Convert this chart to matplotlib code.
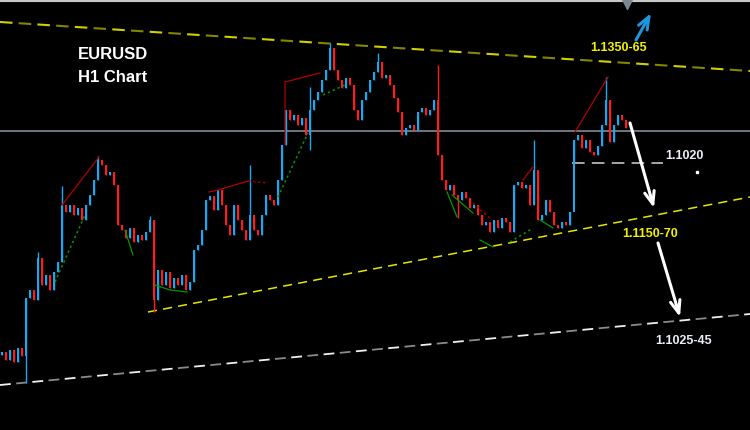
import matplotlib
matplotlib.use('Agg')
import matplotlib.pyplot as plt
import numpy as np

# hourly closes, one per bar (EURUSD H1)
closes = [
    1.1048, 1.1040, 1.1050, 1.1038, 1.1052, 1.1044, 1.1102, 1.1110, 1.1100, 1.1142,
    1.1115, 1.1125, 1.1110, 1.1128, 1.1138, 1.1195, 1.1188, 1.1195, 1.1185, 1.1192,
    1.1180, 1.1195, 1.1205, 1.1220, 1.1240, 1.1235, 1.1225, 1.1228, 1.1215, 1.1175,
    1.1170, 1.1162, 1.1172, 1.1158, 1.1165, 1.1160, 1.1168, 1.1180, 1.1100, 1.1130,
    1.1115, 1.1128, 1.1112, 1.1122, 1.1115, 1.1125, 1.1110, 1.1118, 1.1150, 1.1155,
    1.1170, 1.1200, 1.1204, 1.1190, 1.1210, 1.1195, 1.1175, 1.1165, 1.1195, 1.1180,
    1.1170, 1.1160, 1.1185, 1.1170, 1.1165, 1.1185, 1.1205, 1.1200, 1.1195, 1.1220,
    1.1255, 1.1290, 1.1280, 1.1285, 1.1275, 1.1282, 1.1265, 1.1290, 1.1300, 1.1308,
    1.1320, 1.1330, 1.1352, 1.1330, 1.1320, 1.1312, 1.1322, 1.1315, 1.1290, 1.1280,
    1.1300, 1.1308, 1.1320, 1.1328, 1.1338, 1.1322, 1.1325, 1.1315, 1.1302, 1.1288,
    1.1265, 1.1272, 1.1275, 1.1270, 1.1288, 1.1292, 1.1285, 1.1290, 1.1300, 1.1245,
    1.1220, 1.1210, 1.1215, 1.1205, 1.1200, 1.1208, 1.1202, 1.1192, 1.1195, 1.1185,
    1.1175, 1.1178, 1.1168, 1.1180, 1.1172, 1.1182, 1.1178, 1.1168, 1.1215, 1.1218,
    1.1212, 1.1215, 1.1195, 1.1230, 1.1180, 1.1185, 1.1200, 1.1188, 1.1175, 1.1172,
    1.1178, 1.1175, 1.1188, 1.1260, 1.1265, 1.1252, 1.1260, 1.1248, 1.1245, 1.1254,
    1.1275, 1.1300, 1.1258, 1.1275, 1.1285, 1.1280, 1.1272,
]
first_open = 1.1045

# long wicks on some bars: bar index -> (high, low)
spikes = {
    6: (None, 1.1017), 9: (1.1148, None), 15: (1.1214, None), 24: (1.1244, None),
    37: (1.1184, None), 38: (None, 1.1088), 62: (1.1235, None), 77: (1.1313, 1.1250),
    82: (1.1357, None), 94: (1.1347, None), 109: (1.1335, None), 114: (None, 1.1182),
    133: (1.1260, None), 143: (None, 1.1237), 151: (1.1323, None),
}

# drawn objects, (bar, price)
upper_channel = [(-0.5, 1.1378), (187, 1.1329)]
lower_channel = [(36.5, 1.1088), (187, 1.1203)]
support_line = [(-0.5, 1.1015), (187, 1.1086)]
level_line = 1.12685
level_1020 = [(142.5, 1.1237), (165.25, 1.1237)]

red_lines = [
    [(15, 1.1195), (24.25, 1.1243)],
    [(51.75, 1.1208), (54, 1.1210), (61.5, 1.1219)],
    [(70.75, 1.1255), (70.75, 1.1318), (79.5, 1.1327)],
    [(130.25, 1.1220), (132.75, 1.1233)],
    [(143.25, 1.1268), (151.5, 1.1323)],
]
red_dotted = [
    [(61.5, 1.1219), (66.5, 1.1217)],
    [(117.75, 1.1197), (122.5, 1.1180)],
]
green_lines = [
    [(30.75, 1.1170), (32.75, 1.1145)],
    [(38.25, 1.1115), (42, 1.1110), (46.25, 1.1108)],
    [(111.25, 1.1208), (113.75, 1.1183)],
    [(112.5, 1.1205), (117.75, 1.1187)],
    [(119.5, 1.1160), (122.75, 1.1153)],
    [(134.5, 1.1180), (137.75, 1.1172)],
]
green_dotted = [
    [(13.25, 1.1118), (20.75, 1.1185)],
    [(69, 1.1203), (76.5, 1.1267)],
    [(80.25, 1.1305), (85.75, 1.1315)],
    [(127, 1.1158), (132.75, 1.1172)],
]

BLUE = '#19a9f2'
RED = '#ff1c1c'

fig = plt.figure(figsize=(7.5, 4.3), dpi=100, facecolor='black')
ax = fig.add_axes([0, 0, 1, 1])
ax.set_facecolor('black')
ax.set_xlim(-0.5, 187)
ax.set_ylim(1.0970, 1.1400)
ax.axis('off')

x = np.arange(len(closes))
opens = np.array([first_open] + closes[:-1])
closes_arr = np.array(closes)
highs = np.maximum(opens, closes_arr)
lows = np.minimum(opens, closes_arr)
for i, (hi, lo) in spikes.items():
    if hi is not None:
        highs[i] = hi
    if lo is not None:
        lows[i] = lo

colors = [BLUE if c >= o else RED for o, c in zip(opens, closes_arr)]
ax.vlines(x, lows, highs, colors=colors, lw=1.0, zorder=3)
ax.bar(x, closes_arr - opens, bottom=opens, width=0.7, color=colors, zorder=3)

# horizontal reference lines
ax.axhline(level_line, color='#8c96a8', lw=1.1, zorder=2)
ax.axhline(1.1400, color='#c8c8c8', lw=3, zorder=5)
ax.plot(156.25, 1.1396, marker='v', color='#7c8690', ms=7, zorder=6)

(x0, y0), (x1, y1) = upper_channel
ax.plot([x0, x1], [y0, y1], color='#d0d000', lw=1.5, dashes=(6, 12), zorder=2)
ax.plot([x0, x1], [y0, y1], color='#858500', lw=1.5, linestyle=(9, (6, 12)), zorder=2)

(x0, y0), (x1, y1) = lower_channel
ax.plot([x0, x1], [y0, y1], color='#e6e600', lw=1.1, dashes=(6, 4), zorder=2)

(x0, y0), (x1, y1) = support_line
ax.plot([x0, x1], [y0, y1], color='#f0f0f0', lw=1.3, dashes=(6, 12), zorder=2)
ax.plot([x0, x1], [y0, y1], color='#8a8a8a', lw=1.3, linestyle=(9, (6, 12)), zorder=2)

ax.plot(*zip(*level_1020), color='#b4b4b4', lw=1.3, dashes=(7, 4), zorder=2)

for pts in red_lines:
    ax.plot(*zip(*pts), color='#b40000', lw=0.9, zorder=4)
for pts in red_dotted:
    ax.plot(*zip(*pts), color='#b40000', lw=0.9, dashes=(2, 2), zorder=4)
for pts in green_lines:
    ax.plot(*zip(*pts), color='#009a00', lw=0.9, zorder=4)
for pts in green_dotted:
    ax.plot(*zip(*pts), color='#009a00', lw=1.1, dashes=(1.5, 2), zorder=4)

# arrows
arrow = dict(arrowstyle='->,head_length=0.9,head_width=0.35', lw=2.2, shrinkA=0, shrinkB=0)
ax.annotate('', xy=(163, 1.1192), xytext=(157, 1.1277),
            arrowprops=dict(arrow, color='white'), zorder=6)
ax.annotate('', xy=(169.5, 1.1083), xytext=(164, 1.1157),
            arrowprops=dict(arrow, color='white'), zorder=6)
ax.annotate('', xy=(162.25, 1.1387), xytext=(158.5, 1.1360),
            arrowprops=dict(arrow, color='#1e96dc'), zorder=6)

# labels
font = dict(family='Liberation Sans', weight='bold', ha='center', va='center', zorder=7)
ax.text(27.75, 1.1345, 'EURUSD', color='white', fontsize=12, **font)
ax.text(27.75, 1.1322, 'H1 Chart', color='white', fontsize=12, **font)
ax.text(154.1, 1.1352, '1.1350-65', color='#f2f200', fontsize=9, **font)
ax.text(170.5, 1.1244, '1.1020', color='#e8eef8', fontsize=9, **font)
ax.text(162.1, 1.1166, '1.1150-70', color='#f2f200', fontsize=9, **font)
ax.text(170.4, 1.1059, '1.1025-45', color='#e8eef8', fontsize=9, **font)
ax.plot(173.75, 1.1228, marker='s', color='white', ms=1.8, zorder=7)

fig.savefig('out.png', dpi=100, facecolor='black')
